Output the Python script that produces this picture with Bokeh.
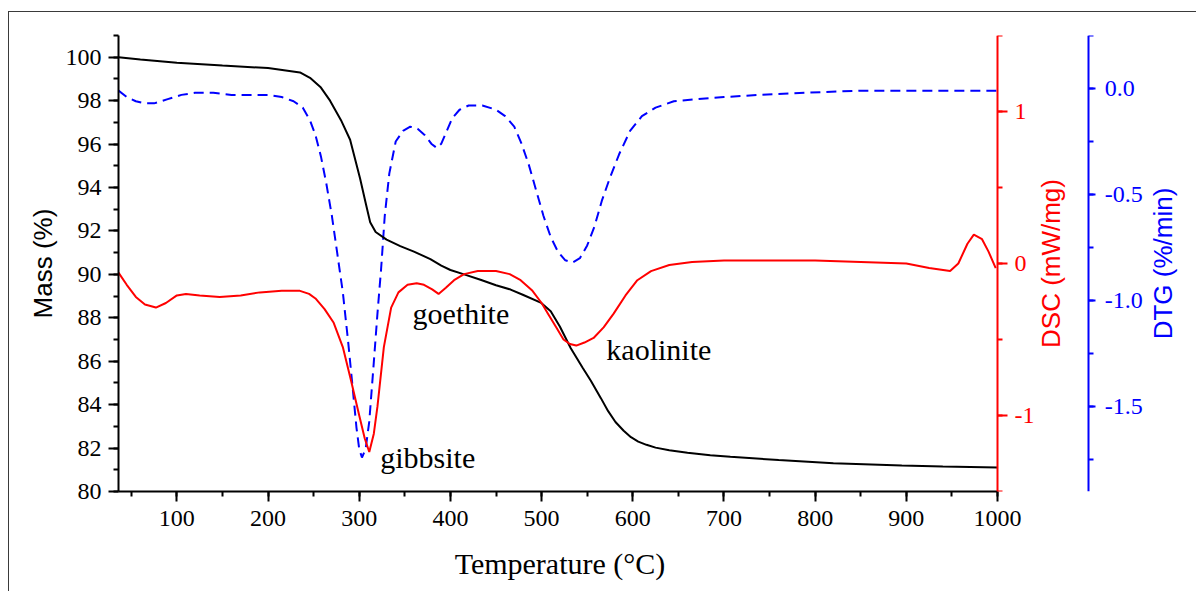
from bokeh.plotting import figure
from bokeh.models import (Range1d, LinearAxis, SingleIntervalTicker,
                          NumeralTickFormatter, Label)
from bokeh.core.properties import value
from bokeh.embed import file_html
from bokeh.resources import INLINE

# ---- TG: remaining mass (%) vs temperature (°C) ----
temp_mass = [36, 60, 100, 150, 200, 235, 246, 258, 268, 280, 290, 301, 307, 312, 318,
             330, 345, 360, 378, 390, 400, 415, 433, 450, 466, 480, 499, 510, 520, 532,
             545, 554, 565, 573, 581, 590, 598, 606, 615, 625, 640, 660, 685, 707, 760,
             820, 895, 940, 1000]
mass = [100.0, 99.9, 99.75, 99.62, 99.5, 99.3, 99.05, 98.6, 98.0, 97.1, 96.2, 94.4, 93.3,
        92.4, 91.95, 91.6, 91.3, 91.05, 90.7, 90.4, 90.2, 90.0, 89.75, 89.5, 89.3, 89.05,
        88.7, 88.3, 87.6, 86.6, 85.7, 85.1, 84.3, 83.7, 83.2, 82.8, 82.5, 82.3, 82.15,
        82.02, 81.9, 81.78, 81.67, 81.6, 81.45, 81.3, 81.2, 81.15, 81.1]

# ---- DSC heat flow (mW/mg) ----
temp_dsc = [36, 45, 55, 65, 77, 88, 100, 110, 125, 147, 170, 191, 215, 235, 245, 252,
            262, 272, 282, 291, 300, 306, 311, 316, 320, 327, 335, 343, 353, 363, 371,
            380, 387, 395, 404, 415, 430, 450, 465, 477, 490, 500, 507, 516, 524, 531,
            538, 547, 557, 568, 579, 592, 605, 620, 640, 665, 700, 750, 800, 850, 900,
            925, 948, 957, 967, 974, 983, 990, 998]
dsc = [-0.06, -0.14, -0.22, -0.27, -0.29, -0.26, -0.21, -0.2, -0.21, -0.22, -0.21, -0.19,
       -0.18, -0.18, -0.2, -0.23, -0.3, -0.39, -0.55, -0.77, -1.0, -1.15, -1.24, -1.12,
       -0.94, -0.55, -0.29, -0.19, -0.14, -0.13, -0.14, -0.17, -0.2, -0.16, -0.11, -0.07,
       -0.05, -0.05, -0.07, -0.11, -0.18, -0.26, -0.33, -0.42, -0.5, -0.53, -0.54, -0.52,
       -0.49, -0.42, -0.33, -0.21, -0.11, -0.05, -0.01, 0.01, 0.02, 0.02, 0.02, 0.01,
       0.0, -0.03, -0.05, 0.0, 0.13, 0.19, 0.16, 0.08, -0.03]

# ---- DTG mass-loss rate (%/min) ----
temp_dtg = [36, 45, 55, 65, 75, 90, 105, 120, 140, 160, 180, 200, 215, 228, 238, 246,
            252, 258, 264, 270, 276, 282, 288, 293, 297, 300, 303, 307, 311, 316, 320,
            324, 328, 333, 340, 348, 356, 364, 372, 379, 385, 390, 396, 402, 410, 420,
            435, 450, 460, 470, 478, 486, 494, 502, 510, 518, 526, 534, 542, 550, 558,
            566, 575, 585, 597, 610, 625, 645, 670, 700, 740, 790, 850, 900, 950, 1000]
dtg = [-0.01, -0.04, -0.06, -0.07, -0.07, -0.05, -0.03, -0.02, -0.02, -0.03, -0.03,
       -0.03, -0.04, -0.06, -0.09, -0.15, -0.22, -0.32, -0.45, -0.6, -0.78, -0.96, -1.2,
       -1.42, -1.6, -1.7, -1.74, -1.7, -1.57, -1.29, -1.06, -0.85, -0.6, -0.4, -0.25,
       -0.2, -0.18, -0.19, -0.22, -0.26, -0.28, -0.26, -0.2, -0.14, -0.1, -0.08, -0.08,
       -0.1, -0.13, -0.18, -0.26, -0.36, -0.48, -0.6, -0.7, -0.77, -0.81, -0.82, -0.8,
       -0.74, -0.65, -0.53, -0.42, -0.31, -0.2, -0.13, -0.09, -0.06, -0.05, -0.04, -0.03,
       -0.02, -0.01, -0.01, -0.01, -0.01]

# ---- mineral labels ----
minerals = ["gibbsite", "goethite", "kaolinite"]
label_x = [323, 358.5, 571]
label_y = [81.57, 88.2, 86.55]

SERIF = "Liberation Serif"
SANS = "Liberation Sans"

T_MIN, T_MAX = 36, 1000
# the frame runs on past T_MAX so the DSC / DTG axes and their titles sit inside it
T_VIEW_END = 1218.2

p = figure(frame_width=1078, frame_height=456,
           x_range=Range1d(T_MIN, T_VIEW_END), y_range=Range1d(80, 101),
           output_backend="svg", toolbar_location=None,
           min_border_left=109, min_border_top=23,
           min_border_right=0, min_border_bottom=100)
p.margin = (11, 0, 0, 8)
p.styles = {"border-top": "1px solid #3a3a3a", "border-left": "1px solid #3a3a3a"}
p.outline_line_color = None
p.xgrid.visible = False
p.ygrid.visible = False
p.background_fill_color = "white"
p.border_fill_color = "white"

p.extra_y_ranges = {"dsc": Range1d(-1.5, 1.5), "dtg": Range1d(-1.9, 0.25)}


def style_axis(ax, color, label_font, label_size, tick_out=10, minor_out=5):
    ax.axis_line_color = color
    ax.axis_line_width = 2
    ax.major_tick_line_color = color
    ax.major_tick_line_width = 2
    ax.minor_tick_line_color = color
    ax.minor_tick_line_width = 2
    ax.major_tick_out = tick_out
    ax.major_tick_in = 0
    ax.minor_tick_out = minor_out
    ax.minor_tick_in = 0
    ax.major_label_text_font = SERIF
    ax.major_label_text_font_size = "24px"
    ax.major_label_text_color = color
    ax.axis_label_text_font = label_font
    ax.axis_label_text_font_size = label_size
    ax.axis_label_text_font_style = "normal"
    ax.axis_label_text_color = color


# bottom: temperature (only over the measured span); trailing no-break spaces
# pull the centred title back under that span
xax = p.xaxis[0]
xax.ticker = SingleIntervalTicker(interval=100, num_minor_ticks=2)
xax.bounds = (T_MIN, T_MAX)
xax.axis_label = "Temperature (°C)" + "\u00a0" * 26
style_axis(xax, "black", SERIF, "30px")
xax.major_label_standoff = 9
xax.axis_label_standoff = 18

# left: mass
yax = p.yaxis[0]
yax.ticker = SingleIntervalTicker(interval=2, num_minor_ticks=2)
yax.axis_label = "Mass (%)"
style_axis(yax, "black", SANS, "26px")
yax.major_label_standoff = 7
yax.axis_label_standoff = 5

# right: DSC, at the end of the temperature span
dsc_axis = LinearAxis(y_range_name="dsc", fixed_location=T_MAX,
                      ticker=SingleIntervalTicker(interval=1, num_minor_ticks=2),
                      formatter=NumeralTickFormatter(format="0"))
style_axis(dsc_axis, "red", SANS, "26px")
dsc_axis.major_label_standoff = 7
p.add_layout(dsc_axis, "right")

# right: DTG, offset further out
dtg_axis = LinearAxis(y_range_name="dtg", fixed_location=1100,
                      ticker=SingleIntervalTicker(interval=0.5, num_minor_ticks=2),
                      formatter=NumeralTickFormatter(format="0.0"))
style_axis(dtg_axis, "blue", SANS, "26px", tick_out=7, minor_out=5)
dtg_axis.major_label_standoff = 9
p.add_layout(dtg_axis, "right")

# right-hand axis titles, reading bottom-to-top like the left one
for txt, xpos, col in [("DSC (mW/mg)", 1059, "red"), ("DTG (%/min)", 1182, "blue")]:
    p.add_layout(Label(x=xpos, y=90.5, text=txt, angle=90, angle_units="deg",
                       text_align="center", text_baseline="middle",
                       text_font=SANS, text_font_size="26px", text_color=col))

# curves
p.line(temp_dtg, dtg, y_range_name="dtg", line_color="blue", line_width=2,
       line_dash="10 6")
p.line(temp_mass, mass, line_color="black", line_width=2)
p.line(temp_dsc, dsc, y_range_name="dsc", line_color="red", line_width=2)

p.text(x=label_x, y=label_y, text=minerals, text_font=value(SERIF),
       text_font_size="30px", text_align="left", text_baseline="middle",
       text_color="black")

open("out.html", "w").write(file_html(p, INLINE))
